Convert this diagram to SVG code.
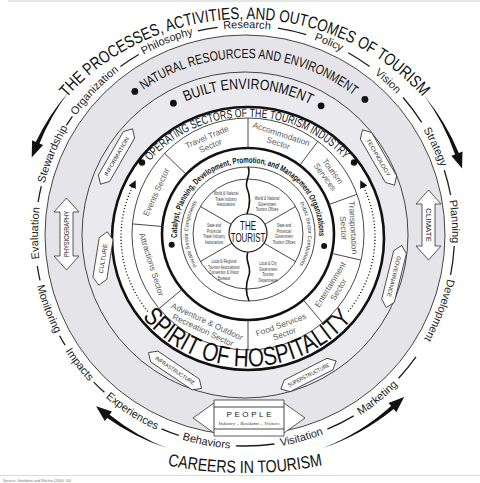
<svg xmlns="http://www.w3.org/2000/svg" width="480" height="483" viewBox="0 0 480 483">
<style>
text{font-family:"Liberation Sans",Arial,Helvetica,sans-serif}
.w{font-size:11px;fill:#1c1c1c;text-anchor:middle}
.ln{fill:none;stroke:#1c1c1c;stroke-width:1.3}
.thin{fill:none;stroke:#333;stroke-width:0.9}
.thick{fill:none;stroke:#111;stroke-width:2.6}
.sec{font-size:8.3px;fill:#5c5c5c;text-anchor:middle}
.cell{font-size:4.6px;fill:#333;text-anchor:middle}
.shape{fill:#fff;stroke:#333;stroke-width:0.8}
.lab{font-size:5.5px;fill:#222;text-anchor:middle}
.big{fill:#111}
.dot{fill:none;stroke:#222;stroke-width:1.4;stroke-dasharray:1.1 2.1}
.bul{fill:#111}
</style>
<defs>
<path id="p-title" d="M66.8,97.6 A231,216 0 0 1 425.8,100.5"/>
<path id="p-top" d="M50.5,305.8 A207,207 0 1 1 403.6,368.1"/>
<path id="p-bot" d="M33.1,264.8 A214,214 0 0 0 420.3,357.7"/>
<path id="p-careers" d="M165,464.9 A400,400 0 0 0 325,464.9"/>
<path id="p-nr" d="M143.5,90 A177,177 0 0 1 355.2,96.5"/>
<path id="p-built" d="M185.6,101.6 A146,146 0 0 1 311.3,104.9"/>
<path id="p-oper" d="M150.1,161.1 A126,119 0 0 1 345.9,161.1"/>
<path id="p-spirit" d="M142.4,317.3 A134,128 0 0 0 353.6,317.3"/>
<path id="p-cat" d="M177.1,237.7 A71,71 0 1 1 318.8,239"/>
<path id="p-priv" d="M202,272.6 A60,60 0 0 1 202,195.4"/>
<path id="p-pub" d="M294,195.4 A60,60 0 0 1 294,272.6"/>
<marker id="ah" viewBox="0 0 10 10" refX="2" refY="5" markerWidth="8" markerHeight="8" markerUnits="userSpaceOnUse" orient="auto"><path d="M0,0 L10,5 L0,10 z" fill="#111"/></marker>
</defs>

<rect width="480" height="483" fill="#fff"/>
<line x1="8" y1="1" x2="480" y2="1" stroke="#ccc" stroke-width="1"/>

<g id="rings">
<circle cx="245" cy="235" r="200" fill="#e4e4e9" stroke="#333" stroke-width="0.9"/>
<circle cx="245" cy="235" r="163" fill="#eaeaee" stroke="#333" stroke-width="0.9"/>
<ellipse cx="248" cy="238.5" rx="136" ry="131.5" fill="#fff" stroke="#111" stroke-width="2.6"/>
<circle cx="248" cy="234" r="116" class="thin"/>
<circle cx="248" cy="234" r="86" class="thick"/>
<circle cx="248" cy="234" r="67" class="thin"/>
<circle cx="248" cy="234" r="55" class="thin"/>
</g>

<g id="title">
<text font-size="17" fill="#111"><textPath href="#p-title" textLength="400" lengthAdjust="spacingAndGlyphs">THE PROCESSES, ACTIVITIES, AND OUTCOMES OF TOURISM</textPath></text>
</g>
<g id="careers">
<text font-size="17.5" fill="#111" text-anchor="middle"><textPath href="#p-careers" startOffset="50%" textLength="156" lengthAdjust="spacingAndGlyphs">CAREERS IN TOURISM</textPath></text>
</g>
<g id="process-words">
<text class="w"><textPath href="#p-top" startOffset="74.1">Evaluation</textPath></text>
<text class="w"><textPath href="#p-top" startOffset="154.6">Stewardship</textPath></text>
<text class="w"><textPath href="#p-top" startOffset="230.5">Organization</textPath></text>
<text class="w"><textPath href="#p-top" startOffset="317.9">Philosophy</textPath></text>
<text class="w"><textPath href="#p-top" startOffset="398.9">Research</textPath></text>
<text class="w"><textPath href="#p-top" startOffset="482.3">Policy</textPath></text>
<text class="w"><textPath href="#p-top" startOffset="552">Vision</textPath></text>
<text class="w"><textPath href="#p-top" startOffset="632.2">Strategy</textPath></text>
<text class="w"><textPath href="#p-top" startOffset="708.8">Planning</textPath></text>
<text class="w"><textPath href="#p-top" startOffset="798.4">Development</textPath></text>
<text class="w"><textPath href="#p-bot" startOffset="47.1">Monitoring</textPath></text>
<text class="w"><textPath href="#p-bot" startOffset="112.1">Impacts</textPath></text>
<text class="w"><textPath href="#p-bot" startOffset="184.5">Experiences</textPath></text>
<text class="w"><textPath href="#p-bot" startOffset="266.7">Behaviors</textPath></text>
<text class="w"><textPath href="#p-bot" startOffset="364.2">Visitation</textPath></text>
<text class="w"><textPath href="#p-bot" startOffset="451.9">Marketing</textPath></text>
</g>

<g id="connectors">
<path class="ln" d="M37.3,266 A210,210 0 0 0 40,280.4"/>
<path class="ln" d="M38.1,202.2 A209.5,209.5 0 0 1 41.3,186.1"/>
<path class="ln" d="M66.4,125.5 A209.5,209.5 0 0 1 72.4,116.3"/>
<path class="ln" d="M120.4,66.6 A209.5,209.5 0 0 1 138.7,54.5"/>
<path class="ln" d="M197.9,30.9 A209.5,209.5 0 0 1 217.7,27.3"/>
<path class="ln" d="M277.8,28.1 A209.5,209.5 0 0 1 306.3,34.7"/>
<path class="ln" d="M348.2,52.7 A209.5,209.5 0 0 1 369.6,66.6"/>
<path class="ln" d="M403.1,97.5 A209.5,209.5 0 0 1 421.7,122.4"/>
<path class="ln" d="M444.3,170.3 A209.5,209.5 0 0 1 450.6,195"/>
<path class="ln" d="M454.2,246 A209.5,209.5 0 0 1 450.6,275"/>
<path class="ln" d="M416,356.9 A210,210 0 0 1 398.6,378.2"/>
<path class="ln" d="M65.1,345.2 A211,211 0 0 1 59.6,335.7"/>
<path class="ln" d="M104.4,392.3 A211,211 0 0 1 93.7,382.1"/>
<path class="ln" d="M178.7,435.3 A211,211 0 0 1 161.5,428.8"/>
<path class="ln" d="M274.4,444 A211,211 0 0 1 235.8,445.8"/>
<path class="ln" d="M353.7,415.9 A211,211 0 0 1 327.4,429.2"/>
<path class="big" d="M68.6,92.1 A229,229 0 0 0 35.8,141.9 L32.1,140.2 L31.7,157.4 L43.1,145.1 L39.5,143.5 A225,225 0 0 1 68.6,92.1 Z"/>
<path class="big" d="M423.9,95.2 A229,229 0 0 1 458.8,152.9 L462.5,151.5 L462.1,168.6 L451.3,155.8 L455.1,154.4 A225,225 0 0 0 423.9,95.2 Z"/>
<path class="big" d="M167.4,448.3 A230,230 0 0 1 107.2,417.9 L104.8,421.1 L96.1,406.3 L112,411.5 L109.6,414.7 A224,224 0 0 0 167.4,448.3 Z"/>
<path class="big" d="M322.6,448.3 A230,230 0 0 0 393.7,409.1 L396.3,412.2 L404.1,396.9 L388.5,403 L391.1,406.1 A224,224 0 0 1 322.6,448.3 Z"/>
<path class="dot" d="M147.9,311.5 A127,121 0 0 1 132.9,185.9" marker-end="url(#ah)"/>
<path class="dot" d="M348.1,311.5 A127,121 0 0 0 363.1,185.9" marker-end="url(#ah)"/>
</g>

<g id="natural-resources">
<circle class="bul" cx="134.8" cy="91.4" r="3.4"/>
<circle class="bul" cx="364.9" cy="99.4" r="3.4"/>
<text font-size="13.5" fill="#111"><textPath href="#p-nr" textLength="225" lengthAdjust="spacingAndGlyphs">NATURAL RESOURCES AND ENVIRONMENT</textPath></text>
</g>
<g id="physiography">
<polygon class="shape" points="66.5,198 79,212 73,212 73,256 79,256 66.5,270 54,256 60,256 60,212 54,212"/>
<text class="lab" transform="translate(66.5,234) rotate(-90)" y="2.3" textLength="46" lengthAdjust="spacingAndGlyphs" style="font-size:6.5px">PHYSIOGRAPHY</text>
</g>
<g id="climate">
<polygon class="shape" points="428.5,190 441,204 435,204 435,246 441,246 428.5,260 416,246 422,246 422,204 416,204"/>
<text class="lab" transform="translate(428.5,225) rotate(90)" y="2.4" textLength="34" lengthAdjust="spacingAndGlyphs" style="font-size:7px">CLIMATE</text>
</g>
<g id="people">
<polygon class="shape" points="193,418 214,403 214,400 284,400 284,403 305,418 284,433 284,436 214,436 214,433"/>
<path class="thin" d="M214,407 H284 M214,429 H284 M214,403 V433 M284,403 V433"/>
<text x="250.3" y="417" text-anchor="middle" font-size="8" letter-spacing="2.6" fill="#222">PEOPLE</text>
<text x="249" y="425" text-anchor="middle" font-size="5" font-style="italic" fill="#333" style="font-family:'Liberation Serif',serif">Industry – Residents – Visitors</text>
</g>

<g id="built-environment">
<circle class="bul" cx="173.4" cy="103.2" r="3.4"/>
<circle class="bul" cx="321.1" cy="105.8" r="3.4"/>
<text font-size="15" fill="#111"><textPath href="#p-built" textLength="129" lengthAdjust="spacingAndGlyphs">BUILT ENVIRONMENT</textPath></text>
</g>
<g id="information" transform="translate(116.5,156.5) rotate(-60)">
<polygon class="shape" points="-32,0 -25,-6.5 25,-6.5 32,0 25,6.5 -25,6.5"/>
<text class="lab" y="2" textLength="44" lengthAdjust="spacingAndGlyphs">INFORMATION</text>
</g>
<g id="technology" transform="translate(378.5,157.5) rotate(60)">
<polygon class="shape" points="-32,0 -25,-6.5 25,-6.5 32,0 25,6.5 -25,6.5"/>
<text class="lab" y="2" textLength="42" lengthAdjust="spacingAndGlyphs">TECHNOLOGY</text>
</g>
<g id="culture" transform="translate(103,258.5) rotate(-81)">
<polygon class="shape" points="-27,0 -20,-7 20,-7 27,0 20,7 -20,7"/>
<text class="lab" y="2.2" textLength="30" lengthAdjust="spacingAndGlyphs" style="font-size:6px">CULTURE</text>
</g>
<g id="governance" transform="translate(394,276.5) rotate(104)">
<polygon class="shape" points="-32,0 -25,-6.5 25,-6.5 32,0 25,6.5 -25,6.5"/>
<text class="lab" y="2" textLength="42" lengthAdjust="spacingAndGlyphs">GOVERNANCE</text>
</g>
<g id="infrastructure" transform="translate(175,370.5) rotate(34)">
<polygon class="shape" points="-32,0 -25,-6.5 25,-6.5 32,0 25,6.5 -25,6.5"/>
<text class="lab" y="2" textLength="46" lengthAdjust="spacingAndGlyphs">INFRASTRUCTURE</text>
</g>
<g id="superstructure" transform="translate(308.5,375) rotate(-27)">
<polygon class="shape" points="-31,0 -24,-6.5 24,-6.5 31,0 24,6.5 -24,6.5"/>
<text class="lab" y="2" textLength="46" lengthAdjust="spacingAndGlyphs">SUPERSTRUCTURE</text>
</g>

<g id="operating-sectors">
<circle class="bul" cx="142" cy="162.5" r="3.2"/>
<circle class="bul" cx="354" cy="162.5" r="3.2"/>
<text font-size="12" fill="#111"><textPath href="#p-oper" textLength="219" lengthAdjust="spacingAndGlyphs">OPERATING SECTORS OF THE TOURISM INDUSTRY</textPath></text>
</g>
<g id="spirit">
<text font-size="26" fill="#111"><textPath href="#p-spirit" textLength="238" lengthAdjust="spacingAndGlyphs">SPIRIT OF HOSPITALITY</textPath></text>
</g>

<g id="sector-dividers">
<path class="thin" d="M248,148 L248,118 M299.8,165.3 L317.8,141.4 M328.8,204.6 L357,194.3 M331.8,253.4 L361,260.1 M303.3,299.9 L322.6,322.9 M248,320 L248,350 M182.1,289.3 L159.1,308.6 M162.3,226.5 L132.4,223.9 M186.1,174.3 L164.6,153.4"/>
</g>
<g id="travel-trade"><text class="sec" transform="translate(208.5,141) rotate(-23)"><tspan x="0" y="-1.5">Travel Trade</tspan><tspan x="0" y="8">Sector</tspan></text></g>
<g id="accommodation"><text class="sec" transform="translate(280,138.2) rotate(18.5)"><tspan x="0" y="-1.5">Accommodation</tspan><tspan x="0" y="8">Sector</tspan></text></g>
<g id="tourism-services"><text class="sec" transform="translate(329.2,173.9) rotate(53.5)"><tspan x="0" y="-1.5">Tourism</tspan><tspan x="0" y="8">Services</tspan></text></g>
<g id="transportation"><text class="sec" transform="translate(348.8,227.8) rotate(86.5)"><tspan x="0" y="-1.5">Transportation</tspan><tspan x="0" y="8">Sector</tspan></text></g>
<g id="entertainment"><text class="sec" transform="translate(334.1,286.8) rotate(-58.5)"><tspan x="0" y="-1.5">Entertainment</tspan><tspan x="0" y="8">Sector</tspan></text></g>
<g id="food-services"><text class="sec" transform="translate(282.5,328.9) rotate(-20)"><tspan x="0" y="-1.5">Food Services</tspan><tspan x="0" y="8">Sector</tspan></text></g>
<g id="adventure"><text class="sec" transform="translate(205.3,325.5) rotate(25)"><tspan x="0" y="-1.5">Adventure &amp; Outdoor</tspan><tspan x="0" y="8">Recreation Sector</tspan></text></g>
<g id="attractions"><text class="sec" transform="translate(151.7,264.4) rotate(72.5)" y="3">Attractions Sector</text></g>
<g id="events"><text class="sec" transform="translate(156.1,192.1) rotate(-65.5)" y="3">Events Sector</text></g>

<g id="catalyst">
<circle class="bul" cx="171.7" cy="244.7" r="3"/>
<circle class="bul" cx="324.1" cy="246" r="3"/>
<text font-size="8.5" font-weight="bold" fill="#111"><textPath href="#p-cat" textLength="229" lengthAdjust="spacingAndGlyphs">Catalyst, Planning, Development, Promotion, and Management Organizations</textPath></text>
</g>
<g id="private-sector"><text font-size="5.5" fill="#333" text-anchor="middle"><textPath href="#p-priv" startOffset="50%">Private Sector Components</textPath></text></g>
<g id="public-sector"><text font-size="5.5" fill="#333" text-anchor="middle"><textPath href="#p-pub" startOffset="50%">Public Sector Components</textPath></text></g>

<g id="cell-dividers">
<path class="thin" d="M263.6,243 L295.6,261.5 M232.4,243 L200.4,261.5 M232.4,225 L200.4,206.5 M263.6,225 L295.6,206.5"/>
<path fill="none" stroke="#111" stroke-width="1.6" d="M248,167 C252,174 244,181 247,188 S251,203 247,214 M248,252 C244,260 252,267 249,275 S245,292 249,301"/>
</g>
<g id="cell-wn-travel" transform="translate(226,199) scale(0.72,1)"><text class="cell"><tspan x="0" y="-4">World &amp; National</tspan><tspan x="0" y="1.6">Travel Industry</tspan><tspan x="0" y="7.2">Associations</tspan></text></g>
<g id="cell-wn-gov" transform="translate(267,204) scale(0.72,1)"><text class="cell"><tspan x="0" y="-4">World &amp; National</tspan><tspan x="0" y="1.6">Government</tspan><tspan x="0" y="7.2">Tourism Offices</tspan></text></g>
<g id="cell-sp-travel" transform="translate(214,234) scale(0.72,1)"><text class="cell"><tspan x="0" y="-7">State and</tspan><tspan x="0" y="-1.4">Provincial</tspan><tspan x="0" y="4.2">Travel Industry</tspan><tspan x="0" y="9.8">Associations</tspan></text></g>
<g id="cell-sp-gov" transform="translate(284,234) scale(0.72,1)"><text class="cell"><tspan x="0" y="-7">State and</tspan><tspan x="0" y="-1.4">Provincial</tspan><tspan x="0" y="4.2">Government</tspan><tspan x="0" y="9.8">Tourism Offices</tspan></text></g>
<g id="cell-local-regional" transform="translate(224,270) scale(0.72,1)"><text class="cell"><tspan x="0" y="-7">Local &amp; Regional</tspan><tspan x="0" y="-1.4">Tourism Associations/</tspan><tspan x="0" y="4.2">Convention &amp; Visitor</tspan><tspan x="0" y="9.8">Bureaus</tspan></text></g>
<g id="cell-local-city" transform="translate(268,272) scale(0.72,1)"><text class="cell"><tspan x="0" y="-7">Local &amp; City</tspan><tspan x="0" y="-1.4">Government</tspan><tspan x="0" y="4.2">Tourism</tspan><tspan x="0" y="9.8">Departments</tspan></text></g>

<g id="the-tourist">
<circle cx="248" cy="233" r="19" fill="#fff" stroke="#222" stroke-width="1.2"/>
<text transform="translate(248,0) scale(0.66,1)" font-size="12" fill="#111" text-anchor="middle"><tspan x="0" y="230.5">THE</tspan><tspan x="0" y="242.5">TOURIST</tspan></text>
</g>

<g id="source">
<line x1="0" y1="475.5" x2="480" y2="475.5" stroke="#d0d0d0" stroke-width="0.8"/>
<text x="3" y="481.5" font-size="3.8" fill="#777">Source: Goeldner and Ritchie (2006: 14)</text>
</g>
</svg>
